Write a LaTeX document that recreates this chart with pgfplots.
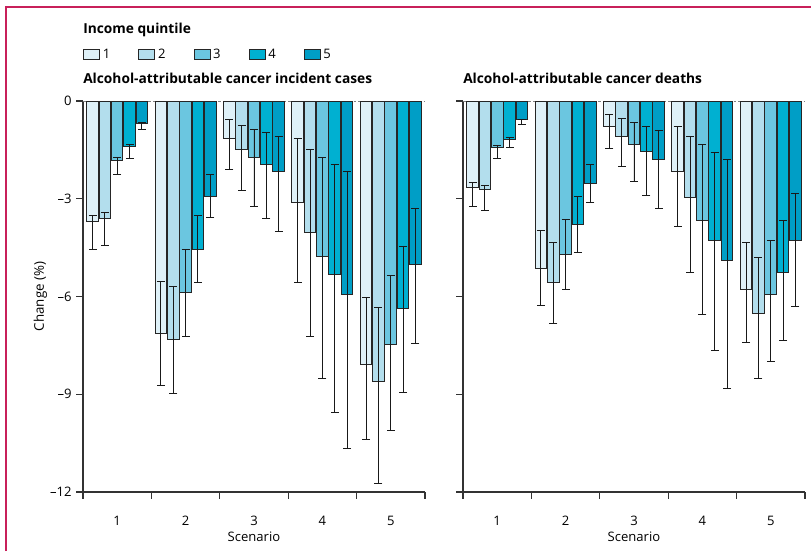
\documentclass[border=0pt]{standalone}
\usepackage{pgfplots}
\pgfplotsset{compat=1.18}
\usepackage{pgfplotstable}
\usepackage{fontspec}
\setmainfont{Open Sans}

\definecolor{qa}{HTML}{DFF1F8}
\definecolor{qb}{HTML}{B3DEED}
\definecolor{qc}{HTML}{6BC6E0}
\definecolor{qd}{HTML}{00B0D1}
\definecolor{qe}{HTML}{009EC6}
\definecolor{lancet}{HTML}{C8205A}

% ---- Alcohol-attributable cancer incident cases ----
\pgfplotstableread{
x y hi lo
1 -3.70 -3.51 -4.55
2 -7.15 -5.54 -8.74
3 -1.14 -0.57 -2.11
4 -3.12 -1.15 -5.57
5 -8.10 -6.04 -10.40
}\incA
\pgfplotstableread{
x y hi lo
1 -3.62 -3.43 -4.43
2 -7.32 -5.68 -8.98
3 -1.48 -0.74 -2.74
4 -4.04 -1.49 -7.22
5 -8.62 -6.35 -11.74
}\incB
\pgfplotstableread{
x y hi lo
1 -1.83 -1.73 -2.24
2 -5.87 -4.55 -7.23
3 -1.74 -0.88 -3.23
4 -4.76 -1.74 -8.52
5 -7.48 -5.36 -10.11
}\incC
\pgfplotstableread{
x y hi lo
1 -1.41 -1.34 -1.75
2 -4.55 -3.51 -5.57
3 -1.95 -0.98 -3.61
4 -5.34 -1.96 -9.55
5 -6.38 -4.45 -8.95
}\incD
\pgfplotstableread{
x y hi lo
1 -0.69 -0.65 -0.86
2 -2.92 -2.25 -3.57
3 -2.16 -1.09 -4.01
4 -5.93 -2.17 -10.65
5 -5.02 -3.31 -7.45
}\incE

% ---- Alcohol-attributable cancer deaths ----
\pgfplotstableread{
x y hi lo
1 -2.65 -2.50 -3.24
2 -5.13 -3.98 -6.28
3 -0.78 -0.40 -1.47
4 -2.17 -0.79 -3.86
5 -5.78 -4.33 -7.41
}\detA
\pgfplotstableread{
x y hi lo
1 -2.72 -2.59 -3.35
2 -5.57 -4.33 -6.84
3 -1.08 -0.54 -2.01
4 -2.95 -1.08 -5.26
5 -6.51 -4.80 -8.51
}\detB
\pgfplotstableread{
x y hi lo
1 -1.44 -1.35 -1.76
2 -4.70 -3.63 -5.78
3 -1.33 -0.67 -2.48
4 -3.66 -1.33 -6.56
5 -5.93 -4.27 -7.99
}\detC
\pgfplotstableread{
x y hi lo
1 -1.17 -1.12 -1.43
2 -3.80 -2.92 -4.66
3 -1.56 -0.78 -2.90
4 -4.28 -1.57 -7.66
5 -5.26 -3.68 -7.35
}\detD
\pgfplotstableread{
x y hi lo
1 -0.58 -0.57 -0.72
2 -2.53 -1.94 -3.10
3 -1.78 -0.91 -3.31
4 -4.91 -1.79 -8.81
5 -4.27 -2.83 -6.30
}\detE

\pgfplotsset{
  panel/.style={
    scale only axis, width=256.5pt, height=293.25pt,
    xmin=0.5, xmax=5.5, ymin=-12, ymax=0,
    axis x line*=bottom, axis y line*=left,
    xtick={0.5,1.5,2.5,3.5,4.5,5.5}, xticklabels={},
    extra x ticks={1,2,3,4,5}, extra x tick labels={1,2,3,4,5},
    extra x tick style={major tick length=0pt, xticklabel style={anchor=center, yshift=-21.75pt}},
    ytick={-12,-9,-6,-3,0},
    tick align=outside, major tick length=5pt,
    axis line style={black!80, line width=0.8pt},
    every tick/.style={black!80, line width=0.8pt},
    xlabel=Scenario,
    xlabel style={at={(rel axis cs:0.5,0)}, anchor=center, yshift=-33.75pt},
    clip=false,
    font=\fontsize{9.8}{11}\selectfont,
    /pgf/number format/assume math mode=true,
  },
  q/.style 2 args={ybar, bar width=8.7pt, bar shift=#2, fill=#1, draw=black!85, line width=0.75pt,
    legend image code/.code={\draw[##1, line width=0.75pt] (0pt,-3.75pt) rectangle (12pt,3.75pt);},
    error bars/y dir=both, error bars/y explicit,
    error bars/error bar style={black!90, line width=0.7pt, xshift=#2},
    error bars/error mark options={black!90, line width=0.7pt, mark size=3pt, rotate=90}},
  /pgfplots/table/tbl/.style={x=x, y=y, y error plus expr=\thisrow{hi}-\thisrow{y}, y error minus expr=\thisrow{y}-\thisrow{lo}},
}

\begin{document}
\begin{tikzpicture}
\useasboundingbox (-62.25pt,-44.25pt) rectangle (546pt,369pt);

\begin{axis}[panel, at={(0pt,0pt)}, anchor=south west,
  yticklabels={–12,–9,–6,–3,0},
  legend columns=5,
  legend style={draw=none, fill=none, at={(rel axis cs:0,1)}, anchor=north west,
    yshift=41pt, inner sep=0pt, font=\fontsize{9.8}{11}\selectfont,
    /tikz/every even column/.append style={column sep=19pt}},
  legend cell align=left]
\addplot[forget plot, black!50, line width=0.6pt, dash pattern=on 2pt off 1.5pt] coordinates {(0.5,0) (5.5,0)};
\addplot[q={qa}{-18.5pt}] table[tbl] {\incA};
\addplot[q={qb}{-9.25pt}] table[tbl] {\incB};
\addplot[q={qc}{0pt}] table[tbl] {\incC};
\addplot[q={qd}{9.25pt}] table[tbl] {\incD};
\addplot[q={qe}{18.5pt}] table[tbl] {\incE};
\legend{1,2,3,4,5}
\node[rotate=90, anchor=center, font=\fontsize{10}{11}\selectfont] at ([xshift=-32pt]rel axis cs:0,0.5) {Change (\%)};
\node[anchor=base west, inner sep=0pt, font=\fontsize{10.3}{11}\selectfont\bfseries] at ([yshift=13.5pt]rel axis cs:0,1) {Alcohol-attributable cancer incident cases};
\node[anchor=base west, inner sep=0pt, font=\fontsize{10.3}{11}\selectfont\bfseries] at ([yshift=51pt]rel axis cs:0,1) {Income quintile};
\end{axis}

\begin{axis}[panel, at={(285pt,0pt)}, anchor=south west, yticklabels={}]
\addplot[forget plot, black!50, line width=0.6pt, dash pattern=on 2pt off 1.5pt] coordinates {(0.5,0) (5.5,0)};
\addplot[q={qa}{-18.5pt}] table[tbl] {\detA};
\addplot[q={qb}{-9.25pt}] table[tbl] {\detB};
\addplot[q={qc}{0pt}] table[tbl] {\detC};
\addplot[q={qd}{9.25pt}] table[tbl] {\detD};
\addplot[q={qe}{18.5pt}] table[tbl] {\detE};
\node[anchor=base west, inner sep=0pt, font=\fontsize{10.3}{11}\selectfont\bfseries] at ([yshift=13.5pt]rel axis cs:0,1) {Alcohol-attributable cancer deaths};
\end{axis}

\draw[lancet, line width=1.5pt] (-57.75pt,-44.25pt) -- (-57.75pt,363.75pt) -- (546pt,363.75pt);
\end{tikzpicture}
\end{document}
